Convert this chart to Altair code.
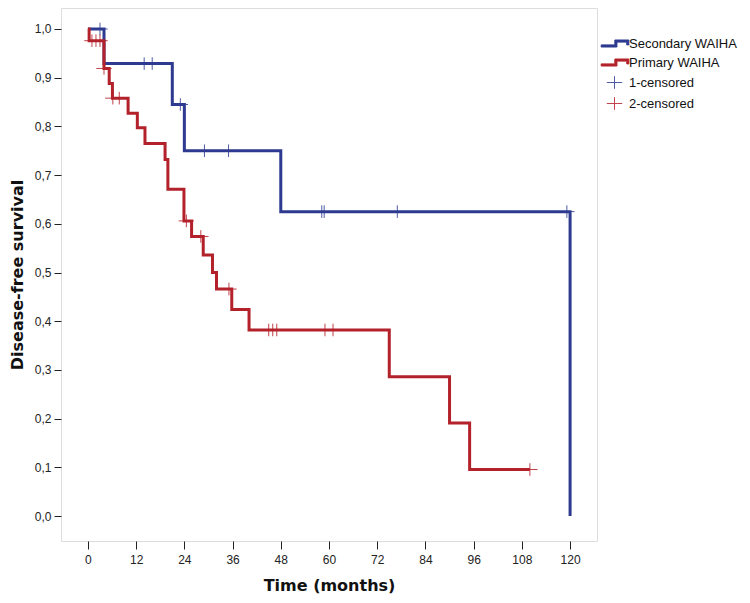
import altair as alt
import pandas as pd

# ---- data ----
sec_time = [0, 4, 21, 24, 48, 120]
sec_surv = [1.0, 0.929, 0.845, 0.750, 0.625, 0.0]

pri_time = [0, 0.3, 4, 5.3, 6.1, 10, 12.3, 14.2, 19.2, 19.9, 23.9, 25.8, 28.7,
            31, 32, 35.8, 40.1, 75, 90, 95, 110]
pri_surv = [1.0, 0.976, 0.919, 0.888, 0.858, 0.827, 0.797, 0.765, 0.732, 0.671,
            0.606, 0.574, 0.536, 0.500, 0.466, 0.424, 0.382, 0.286, 0.191,
            0.0955, 0.0955]

sec_cens_time = [3, 14, 16, 23, 29, 35, 58.2, 58.8, 77, 119.2]
sec_cens_surv = [1.0, 0.929, 0.929, 0.845, 0.75, 0.75, 0.625, 0.625, 0.625, 0.625]

pri_cens_time = [1, 2, 3, 4, 6.2, 7.8, 24.5, 28.1, 35.1, 45, 46, 47, 59, 61, 110]
pri_cens_surv = [0.976, 0.976, 0.976, 0.919, 0.858, 0.858, 0.606, 0.574, 0.466,
                 0.382, 0.382, 0.382, 0.382, 0.382, 0.0955]

labels = ["Secondary WAIHA", "Primary WAIHA", "1-censored", "2-censored"]
colors = ["#2d3a8f", "#b3222a", "#4f5ba3", "#c0424a"]

x_ticks = [0, 12, 24, 36, 48, 60, 72, 84, 96, 108, 120]
y_ticks = [0.0, 0.1, 0.2, 0.3, 0.4, 0.5, 0.6, 0.7, 0.8, 0.9, 1.0]

# ---- tables ----
lines = pd.concat([
    pd.DataFrame({"t": sec_time, "s": sec_surv, "g": labels[0]}),
    pd.DataFrame({"t": pri_time, "s": pri_surv, "g": labels[1]}),
], ignore_index=True)
cens = pd.concat([
    pd.DataFrame({"t": sec_cens_time, "s": sec_cens_surv, "g": labels[2]}),
    pd.DataFrame({"t": pri_cens_time, "s": pri_cens_surv, "g": labels[3]}),
], ignore_index=True)

step_path = "M-1.9,0.2H0.05V-0.5H2.05V0.2H1.75V-0.2H0.35V0.5H-1.9Z"
plus_path = "M-1.1,0H1.1M0,-0.9V0.9"

x_scale = alt.Scale(domain=[-6.7, 126.7], nice=False, zero=False)
y_scale = alt.Scale(domain=[-0.0513, 1.0431], nice=False, zero=False)
color_scale = alt.Scale(domain=labels, range=colors)
shape_scale = alt.Scale(domain=labels, range=[step_path, step_path, plus_path, plus_path])

legend = alt.Legend(
    title=None, orient="none", legendX=546, legendY=28,
    symbolSize=196, symbolStrokeWidth=1, labelFont="Liberation Sans",
    labelFontSize=13, labelColor="#111", labelOffset=7, rowPadding=4,
    padding=0,
)

x_enc = alt.X("t:Q", scale=x_scale, axis=alt.Axis(
    values=x_ticks, title="Time (months)", domain=False, grid=False,
    tickSize=8, tickColor="#222", labelPadding=5, labelFont="Liberation Sans",
    labelFontSize=12, labelColor="#222", titleFont="DejaVu Sans",
    titleFontSize=16, titleFontWeight="bold", titleColor="#111",
    titleY=44, titleBaseline="middle"))
y_enc = alt.Y("s:Q", scale=y_scale, axis=alt.Axis(
    values=y_ticks, title="Disease-free survival", domain=False, grid=False,
    tickSize=7, tickColor="#222", labelPadding=3, labelFont="Liberation Sans",
    labelFontSize=12, labelColor="#222",
    labelExpr="replace(format(datum.value, '.1f'), '.', ',')",
    titleFont="DejaVu Sans", titleFontSize=16, titleFontWeight="bold",
    titleColor="#111", titleX=-44, titleBaseline="middle"))

points = alt.Chart(cens).mark_point(filled=False, strokeWidth=1, size=196, opacity=1).encode(
    x=x_enc, y=y_enc,
    color=alt.Color("g:N", scale=color_scale, legend=legend),
    fill=alt.Fill("g:N", scale=color_scale, legend=legend),
    shape=alt.Shape("g:N", scale=shape_scale, legend=legend),
)

line = alt.Chart(lines).mark_line(interpolate="step-after", strokeWidth=3).encode(
    x=x_enc, y=y_enc,
    color=alt.Color("g:N", scale=color_scale, legend=legend),
)

chart = alt.layer(points, line).properties(
    width=536, height=533,
    autosize=alt.AutoSizeParams(type="none"),
    padding={"left": 53, "top": 0, "right": 145, "bottom": 54},
).configure_view(stroke="#222", strokeWidth=1).configure(background="white")

chart.save("out.html", embed_options={"renderer": "svg", "actions": False})
